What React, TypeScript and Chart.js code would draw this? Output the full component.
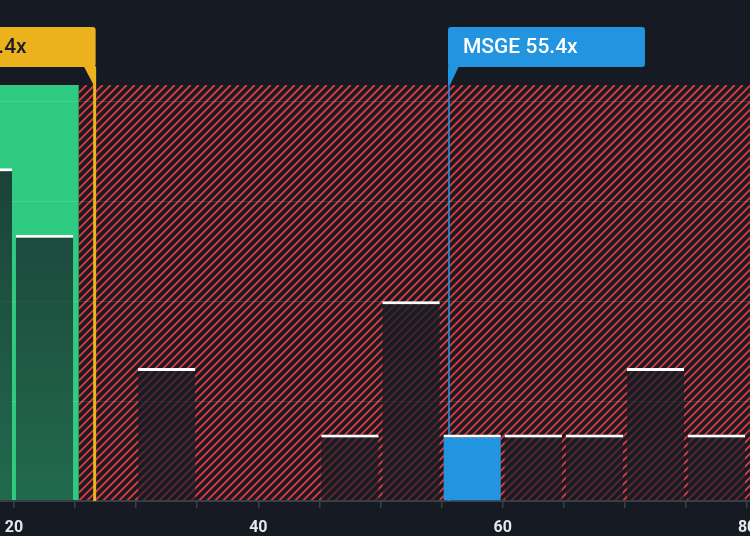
import React, { useEffect, useRef } from 'react';
import { Chart, registerables } from 'chart.js';

Chart.register(...registerables);

// ---- data ----
const binStarts = [15, 20, 25, 30, 35, 40, 45, 50, 55, 60, 65, 70, 75];
const binCounts = [5, 4, 0, 2, 0, 0, 1, 3, 1, 1, 1, 2, 1];
const binWidth = 5;
const xTickLabels = [20, 40, 60, 80];
const xRange = [18.86, 80.24];
const yRange = [0, 6.25];
const yGridStep = 1.5;
const companyName = 'MSGE';
const companyPE = 55.4;
const peerName = 'Peers';
const peerPE = 26.4;
const fairZoneEnd = 25.3;

// ---- styles ----
const BG = '#161b23';
const GREEN = '#2fcb80';
const HATCH = '#d8393e';
const BLUE = '#2394e0';
const ORANGE = '#ecb21e';
const AXIS = '#3a3f48';
const W = 750;
const H = 536;
const LINE_NUDGE = 2.5;

const highlightIndex = binStarts.findIndex((s) => companyPE >= s && companyPE < s + binWidth);

const fmt = (v: number) => `${v.toFixed(1)}x`;

const backgroundPlugin = {
  id: 'pe-background',
  beforeDraw(chart: any) {
    const { ctx, chartArea: a, scales } = chart;
    const x = scales.x;
    ctx.save();
    ctx.fillStyle = BG;
    ctx.fillRect(0, 0, chart.width, chart.height);
    const gx = x.getPixelForValue(fairZoneEnd);
    ctx.fillStyle = GREEN;
    ctx.fillRect(a.left, a.top, gx - a.left, a.bottom - a.top);
    ctx.beginPath();
    ctx.rect(gx, a.top, a.right - gx, a.bottom - a.top);
    ctx.clip();
    ctx.strokeStyle = HATCH;
    ctx.lineWidth = 1.9;
    const h = a.bottom - a.top;
    for (let s = gx - h - 8; s < a.right + 8; s += 8) {
      ctx.beginPath();
      ctx.moveTo(s, a.bottom);
      ctx.lineTo(s + h, a.top);
      ctx.stroke();
    }
    ctx.restore();
  },
  beforeDatasetsDraw(chart: any) {
    const { ctx, chartArea: a, scales } = chart;
    const x = scales.x;
    const lineTop = a.top - 18;
    ctx.save();
    const px = x.getPixelForValue(peerPE) + LINE_NUDGE;
    ctx.strokeStyle = ORANGE;
    ctx.lineWidth = 3;
    ctx.beginPath();
    ctx.moveTo(px, lineTop);
    ctx.lineTo(px, a.bottom);
    ctx.stroke();
    const cx = x.getPixelForValue(companyPE) + LINE_NUDGE;
    ctx.strokeStyle = BLUE;
    ctx.lineWidth = 1.5;
    ctx.beginPath();
    ctx.moveTo(cx, lineTop);
    ctx.lineTo(cx, a.bottom);
    ctx.stroke();
    ctx.restore();
  },
  afterDraw(chart: any) {
    const { ctx, chartArea: a, scales } = chart;
    const x = scales.x;
    const boxTop = a.top - 58;
    const boxH = 40;
    const boxW = 197;
    const boxBottom = boxTop + boxH;
    ctx.save();
    ctx.font = '500 21px Roboto';
    ctx.textBaseline = 'middle';

    const px = x.getPixelForValue(peerPE) + LINE_NUDGE;
    const pr = px + 1;
    ctx.fillStyle = ORANGE;
    ctx.beginPath();
    ctx.roundRect(pr - boxW, boxTop, boxW, boxH, 3);
    ctx.fill();
    ctx.beginPath();
    ctx.moveTo(pr - 12, boxBottom - 1);
    ctx.lineTo(pr, boxBottom - 1);
    ctx.lineTo(pr, a.top);
    ctx.lineTo(pr - 2, a.top);
    ctx.closePath();
    ctx.fill();
    ctx.fillStyle = '#1a1f27';
    ctx.textAlign = 'right';
    ctx.fillText(`${peerName} ${fmt(peerPE)}`, pr - 69, boxTop + boxH / 2 + 1);

    const cx = x.getPixelForValue(companyPE) + LINE_NUDGE;
    const cl = cx - 1;
    ctx.fillStyle = BLUE;
    ctx.beginPath();
    ctx.roundRect(cl, boxTop, boxW, boxH, 3);
    ctx.fill();
    ctx.beginPath();
    ctx.moveTo(cl, boxBottom - 1);
    ctx.lineTo(cl + 11, boxBottom - 1);
    ctx.lineTo(cl + 2, a.top);
    ctx.lineTo(cl, a.top);
    ctx.closePath();
    ctx.fill();
    ctx.fillStyle = '#ffffff';
    ctx.textAlign = 'left';
    ctx.fillText(`${companyName} ${fmt(companyPE)}`, cl + 15, boxTop + boxH / 2 + 1);
    ctx.restore();
  },
};

export default function App() {
  const ref = useRef<HTMLCanvasElement | null>(null);

  useEffect(() => {
    document.body.style.margin = '0';
    document.body.style.background = BG;
    if (!ref.current) return;
    const chart = new Chart(ref.current, {
      type: 'bar',
      data: {
        datasets: [
          {
            data: binStarts.map((s, i) => ({ x: s + binWidth / 2, y: binCounts[i] > 0 ? binCounts[i] : null })) as any,
            backgroundColor: (c: any) => {
              const chart = c.chart;
              const a = chart.chartArea;
              const i = c.dataIndex;
              if (i === highlightIndex) return BLUE;
              if (!a) return 'rgba(22,27,36,0.75)';
              const inFair = binStarts[i] + binWidth <= fairZoneEnd;
              const g = chart.ctx.createLinearGradient(0, a.top, 0, a.bottom);
              if (inFair) {
                g.addColorStop(0, 'rgba(22,27,36,0.84)');
                g.addColorStop(1, 'rgba(22,27,36,0.55)');
              } else {
                g.addColorStop(0, 'rgba(22,27,36,0.92)');
                g.addColorStop(1, 'rgba(22,27,36,0.62)');
              }
              return g;
            },
            borderColor: '#ffffff',
            borderWidth: { top: 3, left: 0, right: 0, bottom: 0 },
            borderSkipped: 'bottom',
            categoryPercentage: 1,
            barPercentage: 0.94,
          } as any,
        ],
      },
      options: {
        responsive: false,
        animation: false,
        events: [],
        layout: { autoPadding: false, padding: { top: 85, right: 20, bottom: 1, left: 0 } },
        plugins: { legend: { display: false }, tooltip: { enabled: false } },
        scales: {
          x: {
            type: 'linear',
            min: xRange[0],
            max: xRange[1],
            offset: false,
            afterFit: (s: any) => {
              s.height = 34;
            },
            grid: { offset: false, drawOnChartArea: false, drawTicks: true, tickLength: 7, color: AXIS, lineWidth: 1.5 },
            border: { display: true, color: AXIS, width: 2 },
            ticks: {
              stepSize: 5,
              includeBounds: false,
              autoSkip: false,
              maxRotation: 0,
              minRotation: 0,
              padding: 0,
              color: '#e6e8eb',
              font: { family: 'Roboto', size: 16, weight: 'bold', lineHeight: 2.5 },
              callback: (v: any) => (xTickLabels.includes(Number(v)) ? String(v) : ''),
            },
          },
          y: {
            type: 'linear',
            min: yRange[0],
            max: yRange[1],
            display: true,
            afterFit: (s: any) => {
              s.width = 0;
            },
            grid: { drawTicks: false, color: 'rgba(255,255,255,0.13)', lineWidth: 1 },
            border: { display: false },
            ticks: { display: false, stepSize: yGridStep, includeBounds: false },
          },
        },
      } as any,
      plugins: [backgroundPlugin],
    });
    return () => chart.destroy();
  }, []);

  return (
    <div style={{ width: W, height: H, overflow: 'hidden', background: BG }}>
      <canvas ref={ref} width={W + 20} height={H} style={{ display: 'block' }} />
    </div>
  );
}
